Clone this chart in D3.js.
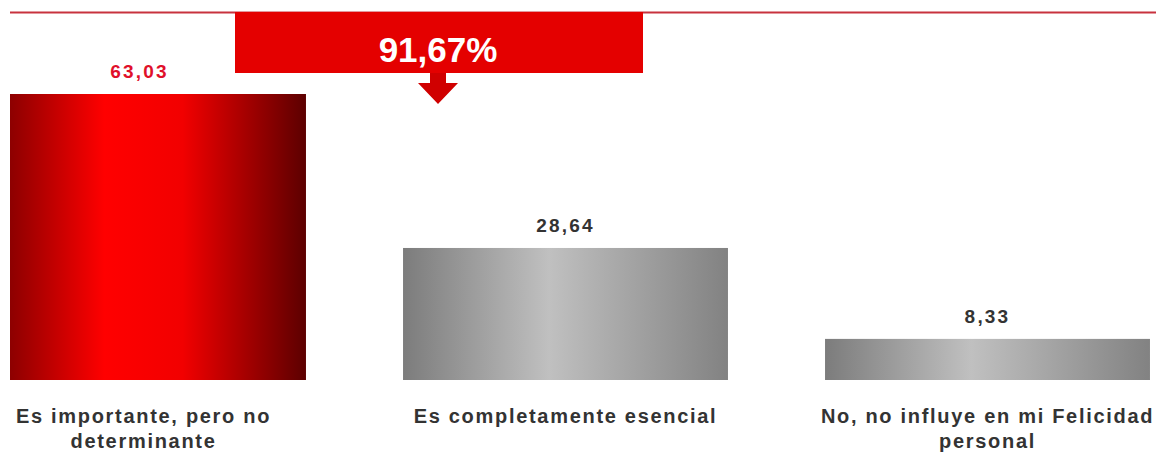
<!DOCTYPE html>
<html lang="es">
<head>
<meta charset="utf-8">
<script src="https://cdn.jsdelivr.net/npm/d3@7"></script>
<style>
  body { margin: 0; background: #fff; }
  text { font-family: "Liberation Sans", Arial, sans-serif; }
  .cat { font-size: 20px; font-weight: bold; fill: #333; letter-spacing: 1.7px; text-anchor: middle; }
  .val { font-size: 19px; font-weight: bold; letter-spacing: 2.2px; text-anchor: middle; }
  .total { font-size: 35px; font-weight: bold; fill: #fff; text-anchor: middle; }
</style>
</head>
<body>
<div id="chart"></div>
<script>
// data
var categories = ["Es importante, pero no determinante", "Es completamente esencial", "No, no influye en mi Felicidad personal"];
var labelLines = [["Es importante, pero no", "determinante"], ["Es completamente esencial"], ["No, no influye en mi Felicidad", "personal"]];
var values = [63.03, 28.64, 8.33];
var valueLabels = ["63,03", "28,64", "8,33"];
var totalLabel = "91,67%";

var width = 1156, height = 456;
var baseY = 380, topY = 94;

var svg = d3.select("#chart").append("svg")
    .attr("width", width)
    .attr("height", height);

var defs = svg.append("defs");

var redGrad = defs.append("linearGradient").attr("id", "redGrad");
redGrad.append("stop").attr("offset", "0%").attr("stop-color", "#6a0000");
redGrad.append("stop").attr("offset", "38%").attr("stop-color", "#ff0000");
redGrad.append("stop").attr("offset", "62%").attr("stop-color", "#f20000");
redGrad.append("stop").attr("offset", "100%").attr("stop-color", "#5c0000");

var grayGrad = defs.append("linearGradient").attr("id", "grayGrad");
grayGrad.append("stop").attr("offset", "0%").attr("stop-color", "#7c7c7c");
grayGrad.append("stop").attr("offset", "45%").attr("stop-color", "#c0c0c0");
grayGrad.append("stop").attr("offset", "100%").attr("stop-color", "#828282");

defs.append("clipPath").attr("id", "clip")
  .append("rect").attr("x", 10).attr("y", 0).attr("width", width - 10).attr("height", height);

var x = d3.scaleBand()
    .domain(categories)
    .range([-67.5, 1198.5])
    .paddingInner(0.23)
    .paddingOuter(0.115);

var y = d3.scaleLinear()
    .domain([-0.85, values[0]])
    .range([baseY, topY]);

var g = svg.append("g").attr("clip-path", "url(#clip)");

// top red rule
g.append("line")
    .attr("x1", 10).attr("x2", width)
    .attr("y1", 12.5).attr("y2", 12.5)
    .style("stroke", "#c8323e")
    .style("stroke-width", 2);

// bars
g.selectAll(".bar")
    .data(values)
    .enter().append("rect")
    .attr("class", "bar")
    .attr("x", function(d, i) { return x(categories[i]); })
    .attr("width", x.bandwidth())
    .attr("y", function(d) { return y(d); })
    .attr("height", function(d) { return baseY - y(d); })
    .style("fill", function(d, i) { return i == 0 ? "url(#redGrad)" : "url(#grayGrad)"; });

// value labels
g.selectAll(".val")
    .data(values)
    .enter().append("text")
    .attr("class", "val")
    .attr("x", function(d, i) { return x(categories[i]) + x.bandwidth() / 2 - (i == 0 ? 4 : 0); })
    .attr("y", function(d) { return y(d) - 16; })
    .style("fill", function(d, i) { return i == 0 ? "#e0102a" : "#333"; })
    .text(function(d, i) { return valueLabels[i]; });

// category labels
var cats = g.selectAll(".catg")
    .data(categories)
    .enter().append("text")
    .attr("class", "cat")
    .attr("transform", function(d) { return "translate(" + (x(d) + x.bandwidth() / 2) + ",423)"; });

cats.selectAll("tspan")
    .data(function(d, i) { return labelLines[i]; })
    .enter().append("tspan")
    .attr("x", 0)
    .attr("y", function(d, j) { return j * 25; })
    .text(String);

// total banner + arrow
var banner = svg.append("g");
banner.append("rect")
    .attr("x", 235).attr("y", 12)
    .attr("width", 408).attr("height", 61)
    .style("fill", "#e40000");

banner.append("text")
    .attr("class", "total")
    .attr("x", 438)
    .attr("y", 62)
    .text(totalLabel);

banner.append("path")
    .attr("d", "M430,73 L446,73 L446,83 L458,83 L438,104 L418,83 L430,83 Z")
    .style("fill", "#d00000");
</script>
</body>
</html>
